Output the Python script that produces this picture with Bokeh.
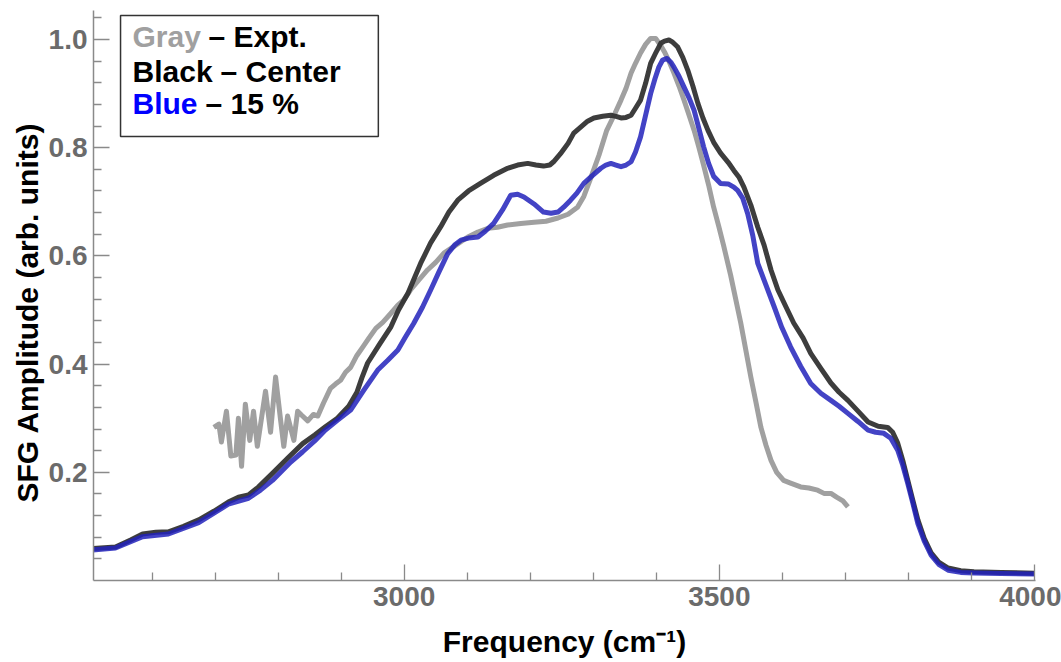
import math
from bokeh.plotting import figure
from bokeh.models import (Range1d, FixedTicker, Label, BoxAnnotation, Title,
                          PrintfTickFormatter)
from bokeh.embed import file_html
from bokeh.resources import INLINE

# ---------------- data ----------------
freq_expt = [2698, 2706, 2710, 2718, 2725, 2733, 2737, 2742, 2748, 2755,
             2761, 2767, 2772, 2780, 2788, 2796, 2804, 2809, 2815, 2825,
             2831, 2837, 2847, 2856, 2863, 2872, 2883, 2891, 2899, 2907,
             2915, 2925, 2934, 2944, 2955, 2966, 2979, 2990, 2999, 3010,
             3023, 3037, 3050, 3063, 3082, 3101, 3117, 3133, 3148, 3164,
             3185, 3206, 3225, 3244, 3260, 3275, 3285, 3296, 3309, 3321,
             3333, 3344, 3352, 3360, 3367, 3375, 3383, 3391, 3399, 3407,
             3413, 3420, 3428, 3436, 3444, 3452, 3460, 3467, 3475, 3483,
             3491, 3499, 3507, 3518, 3534, 3550, 3558, 3566, 3574, 3582,
             3591, 3602, 3613, 3629, 3642, 3656, 3666, 3677, 3686, 3696,
             3704]
amp_expt = [0.283, 0.289, 0.256, 0.313, 0.230, 0.232, 0.300, 0.211, 0.326, 0.259,
            0.313, 0.248, 0.287, 0.350, 0.274, 0.376, 0.296, 0.248, 0.304, 0.259,
            0.313, 0.306, 0.295, 0.307, 0.304, 0.328, 0.355, 0.363, 0.370, 0.385,
            0.394, 0.416, 0.431, 0.448, 0.466, 0.477, 0.494, 0.509, 0.518, 0.537,
            0.555, 0.574, 0.588, 0.605, 0.620, 0.635, 0.644, 0.651, 0.653, 0.657,
            0.660, 0.662, 0.664, 0.670, 0.677, 0.690, 0.710, 0.744, 0.786, 0.831,
            0.860, 0.888, 0.910, 0.938, 0.956, 0.975, 0.991, 1.002, 1.002, 0.989,
            0.977, 0.960, 0.938, 0.914, 0.888, 0.860, 0.832, 0.803, 0.768, 0.731,
            0.690, 0.655, 0.618, 0.564, 0.476, 0.376, 0.330, 0.283, 0.250, 0.222,
            0.200, 0.185, 0.180, 0.173, 0.171, 0.167, 0.161, 0.161, 0.154, 0.147,
            0.136]

freq_center = [2500, 2506, 2542, 2566, 2585, 2606, 2626, 2650, 2674, 2698,
               2721, 2737, 2753, 2769, 2791, 2815, 2839, 2858, 2875, 2894,
               2912, 2925, 2933, 2942, 2960, 2979, 2991, 3006, 3026, 3042,
               3058, 3071, 3085, 3102, 3121, 3142, 3164, 3180, 3196, 3209,
               3221, 3231, 3237, 3248, 3260, 3269, 3280, 3291, 3301, 3315,
               3328, 3336, 3344, 3352, 3360, 3367, 3375, 3383, 3391, 3399,
               3407, 3413, 3420, 3426, 3434, 3442, 3450, 3458, 3466, 3474,
               3482, 3491, 3502, 3514, 3523, 3531, 3539, 3550, 3561, 3571,
               3582, 3593, 3606, 3618, 3633, 3645, 3661, 3677, 3690, 3704,
               3720, 3736, 3752, 3767, 3775, 3783, 3791, 3799, 3807, 3815,
               3825, 3836, 3848, 3863, 3883, 3904, 3947, 4000]
amp_center = [0.058, 0.059, 0.062, 0.075, 0.086, 0.089, 0.090, 0.100, 0.112, 0.128,
              0.145, 0.154, 0.158, 0.173, 0.198, 0.226, 0.253, 0.269, 0.284, 0.300,
              0.322, 0.348, 0.375, 0.402, 0.435, 0.469, 0.500, 0.531, 0.586, 0.624,
              0.654, 0.681, 0.703, 0.720, 0.734, 0.749, 0.762, 0.768, 0.771, 0.768,
              0.766, 0.768, 0.774, 0.789, 0.808, 0.827, 0.838, 0.849, 0.855, 0.858,
              0.860, 0.858, 0.855, 0.856, 0.860, 0.873, 0.888, 0.919, 0.956, 0.975,
              0.993, 0.997, 0.999, 0.995, 0.986, 0.967, 0.943, 0.914, 0.882, 0.855,
              0.832, 0.810, 0.790, 0.773, 0.758, 0.746, 0.727, 0.694, 0.653, 0.620,
              0.574, 0.537, 0.505, 0.476, 0.448, 0.420, 0.392, 0.365, 0.348, 0.333,
              0.313, 0.293, 0.285, 0.283, 0.274, 0.254, 0.222, 0.185, 0.148, 0.112,
              0.078, 0.051, 0.034, 0.023, 0.018, 0.016, 0.015, 0.0135]

freq_15 = [2500, 2542, 2585, 2626, 2674, 2721, 2753, 2772, 2791, 2820,
           2839, 2858, 2875, 2894, 2915, 2936, 2958, 2974, 2990, 3002,
           3015, 3029, 3042, 3055, 3069, 3080, 3090, 3102, 3117, 3129,
           3142, 3156, 3169, 3180, 3190, 3206, 3221, 3233, 3244, 3253,
           3264, 3274, 3285, 3299, 3312, 3320, 3328, 3336, 3344, 3352,
           3360, 3367, 3375, 3383, 3391, 3398, 3404, 3410, 3417, 3423,
           3428, 3436, 3444, 3452, 3460, 3467, 3475, 3483, 3491, 3502,
           3514, 3523, 3529, 3537, 3545, 3553, 3561, 3574, 3587, 3599,
           3613, 3629, 3645, 3661, 3677, 3690, 3704, 3720, 3736, 3748,
           3761, 3772, 3783, 3791, 3799, 3807, 3815, 3825, 3836, 3848,
           3863, 3883, 3904, 3947, 4000]
amp_15 = [0.056, 0.060, 0.081, 0.086, 0.107, 0.141, 0.152, 0.167, 0.185, 0.219,
          0.238, 0.258, 0.278, 0.296, 0.315, 0.352, 0.389, 0.407, 0.426, 0.450,
          0.475, 0.505, 0.537, 0.570, 0.604, 0.620, 0.629, 0.633, 0.635, 0.646,
          0.660, 0.685, 0.712, 0.714, 0.709, 0.696, 0.681, 0.679, 0.681, 0.690,
          0.703, 0.716, 0.734, 0.749, 0.762, 0.768, 0.771, 0.768, 0.765, 0.768,
          0.774, 0.792, 0.820, 0.860, 0.900, 0.928, 0.949, 0.962, 0.965, 0.958,
          0.949, 0.932, 0.912, 0.892, 0.869, 0.838, 0.802, 0.771, 0.747, 0.734,
          0.733, 0.727, 0.721, 0.707, 0.678, 0.638, 0.586, 0.546, 0.506, 0.468,
          0.432, 0.396, 0.364, 0.346, 0.333, 0.322, 0.309, 0.294, 0.278, 0.274,
          0.272, 0.263, 0.241, 0.213, 0.179, 0.143, 0.105, 0.073, 0.047, 0.030,
          0.019, 0.015, 0.014, 0.013, 0.012]

x_major_ticks = [3000, 3500, 4000]
x_minor_ticks = [2600, 2700, 2800, 2900, 3100, 3200, 3300, 3400,
                 3600, 3700, 3800, 3900]
y_major_ticks = [0.2, 0.4, 0.6, 0.8, 1.0]
y_minor_ticks = [0.04, 0.08, 0.12, 0.16, 0.24, 0.28, 0.32, 0.36,
                 0.44, 0.48, 0.52, 0.56, 0.64, 0.68, 0.72, 0.76,
                 0.84, 0.88, 0.92, 0.96, 1.04]

x_label = "Frequency (cm\u207b\u00b9)"
y_label = "SFG Amplitude (arb. units)"
legend_rows = [("Gray", "#a0a0a0", "\u2013 Expt."),
               ("Black", "#000000", "\u2013 Center"),
               ("Blue", "#0000ff", "\u2013 15 %")]

# ---------------- figure ----------------
p = figure(width=1061, height=662, output_backend="svg", toolbar_location=None,
           title=None,
           x_range=Range1d(2507.1, 4001.6), y_range=Range1d(0.0, 1.0536),
           min_border_left=93, min_border_right=26,
           min_border_top=10, min_border_bottom=82)
p.outline_line_color = None
p.grid.visible = False
p.background_fill_color = "white"
p.border_fill_color = "white"

AX_COL = "#8a8a8a"
LBL_COL = "#6b6b6b"
NARROW = "'Liberation Sans Narrow', 'Liberation Sans', sans-serif"

xa = p.xaxis[0]
xa.ticker = FixedTicker(ticks=x_major_ticks, minor_ticks=x_minor_ticks)
ya = p.yaxis[0]
ya.ticker = FixedTicker(ticks=y_major_ticks, minor_ticks=y_minor_ticks)
ya.formatter = PrintfTickFormatter(format="%.1f")

for ax in (xa, ya):
    ax.axis_line_color = AX_COL
    ax.axis_line_width = 1.5
    ax.major_tick_line_color = AX_COL
    ax.minor_tick_line_color = AX_COL
    ax.major_tick_line_width = 1.3
    ax.minor_tick_line_width = 1.3
    ax.major_tick_in = 16
    ax.major_tick_out = 0
    ax.minor_tick_in = 8
    ax.minor_tick_out = 0
    ax.major_label_text_font = NARROW
    ax.major_label_text_font_style = "bold"
    ax.major_label_text_font_size = "28px"
    ax.major_label_text_color = LBL_COL
xa.major_label_standoff = 6
ya.major_label_standoff = 6

xa.axis_label = x_label
xa.axis_label_text_font = "Liberation Sans"
xa.axis_label_text_font_style = "bold"
xa.axis_label_text_font_size = "30px"
xa.axis_label_text_color = "black"
xa.axis_label_standoff = 16

p.add_layout(Title(text=y_label, align="left", offset=78,
                   text_font="Liberation Sans", text_font_style="bold",
                   text_font_size="30px", text_color="black", standoff=4), "left")

# curves
p.line(freq_expt, amp_expt, line_width=5, line_color="#a0a0a0", line_join="round")
p.line(freq_center, amp_center, line_width=5, line_color="#333333", line_alpha=0.95,
       line_join="round")
p.line(freq_15, amp_15, line_width=5, line_color="#2222bb", line_alpha=0.85,
       line_join="round")

# legend box
p.add_layout(BoxAnnotation(left=2550, right=2959, bottom=0.8207, top=1.0444,
                           fill_color="white", fill_alpha=1.0,
                           line_color="#333333", line_width=1.5, line_alpha=1.0))
row_y = [1.0057, 0.9409, 0.8809]
offsets = [76, 88, 73]
for (word, col, rest), yy, off in zip(legend_rows, row_y, offsets):
    p.add_layout(Label(x=2569, y=yy, text=word, text_font="Liberation Sans",
                       text_font_style="bold", text_font_size="30px", text_color=col,
                       text_baseline="middle"))
    p.add_layout(Label(x=2569, y=yy, x_offset=off, text=rest,
                       text_font="Liberation Sans", text_font_style="bold",
                       text_font_size="30px", text_color="black",
                       text_baseline="middle"))

open("out.html", "w").write(file_html(p, INLINE))
